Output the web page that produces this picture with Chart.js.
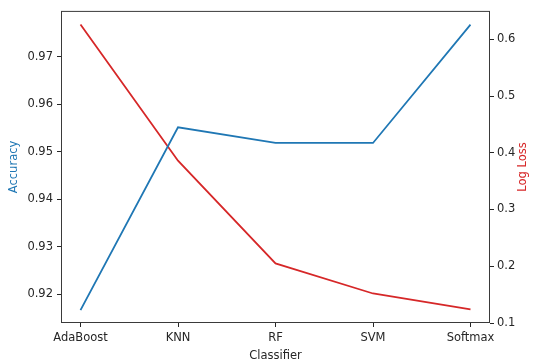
<!DOCTYPE html>
<html>
<head>
<meta charset="utf-8">
<script src="https://cdn.jsdelivr.net/npm/chart.js@4/dist/chart.umd.min.js"></script>
<style>
  html, body { margin: 0; padding: 0; background: #fff; }
  #wrap { width: 534px; height: 364px; position: relative; }
</style>
</head>
<body>
<div id="wrap"><canvas id="chart"></canvas></div>
<script>
// --- data ---
const categories = ['AdaBoost', 'KNN', 'RF', 'SVM', 'Softmax'];
const accuracy = [0.9167, 0.9552, 0.9519, 0.9519, 0.9768];
const logLoss = [0.626, 0.386, 0.205, 0.152, 0.124];
const accTicks = [0.92, 0.93, 0.94, 0.95, 0.96, 0.97];
const lossTicks = [0.1, 0.2, 0.3, 0.4, 0.5, 0.6];

const BLUE = '#1f77b4';
const RED = '#d62728';
const INK = '#262626';
const FONT = { family: 'DejaVu Sans', size: 11.5 };

// matplotlib-style full box plus the two vertical axis titles (both read bottom-to-top)
const frame = {
    id: 'frame',
    afterDraw(chart) {
        const { ctx, chartArea: a } = chart;
        ctx.save();
        ctx.strokeStyle = '#3a3a3a';
        ctx.lineWidth = 1;
        ctx.strokeRect(a.left + 0.5, a.top + 0.5, a.right - a.left - 1, a.bottom - a.top - 1);
        const midY = (a.top + a.bottom) / 2;
        ctx.font = '11.5px "DejaVu Sans"';
        ctx.textAlign = 'center';
        ctx.textBaseline = 'middle';
        [['Accuracy', BLUE, 14], ['Log Loss', RED, 523]].forEach(([t, c, x]) => {
            ctx.save();
            ctx.translate(x, midY);
            ctx.rotate(-Math.PI / 2);
            ctx.fillStyle = c;
            ctx.fillText(t, 0, 0);
            ctx.restore();
        });
        ctx.restore();
    }
};

const tickSetter = list => scale => { scale.ticks = list.map(v => ({ value: v })); };

new Chart(document.getElementById('chart'), {
    type: 'line',
    data: {
        datasets: [
            { label: 'Accuracy', data: accuracy.map((v, i) => ({ x: i, y: v })), yAxisID: 'yAcc',
              borderColor: BLUE, borderWidth: 1.8, pointRadius: 0, tension: 0 },
            { label: 'Log Loss', data: logLoss.map((v, i) => ({ x: i, y: v })), yAxisID: 'yLoss',
              borderColor: RED, borderWidth: 1.8, pointRadius: 0, tension: 0 }
        ]
    },
    options: {
        responsive: true, maintainAspectRatio: false, animation: false,
        layout: { padding: { top: 5, left: 0, right: 0, bottom: 0 } },
        plugins: { legend: { display: false }, tooltip: { enabled: false } },
        scales: {
            x: {
                type: 'linear', min: -0.2, max: 4.2,
                afterBuildTicks: tickSetter([0, 1, 2, 3, 4]),
                afterFit: s => { s.height = 41; },
                grid: { drawOnChartArea: false, drawTicks: true, tickLength: 4, color: INK },
                border: { display: false },
                ticks: { color: INK, font: FONT, padding: 4, maxRotation: 0, autoSkip: false,
                         callback: v => categories[v] },
                title: { display: true, text: 'Classifier', color: INK, font: FONT, padding: { top: 0, bottom: 1 } }
            },
            yAcc: {
                type: 'linear', position: 'left', min: 0.914, max: 0.9797,
                afterBuildTicks: tickSetter(accTicks),
                afterFit: s => { s.width = 61; },
                grid: { drawOnChartArea: false, drawTicks: true, tickLength: 4, color: INK },
                border: { display: false },
                ticks: { color: INK, font: FONT, padding: 4, callback: v => v.toFixed(2) }
            },
            yLoss: {
                type: 'linear', position: 'right', min: 0.1, max: 0.650,
                afterBuildTicks: tickSetter(lossTicks),
                afterFit: s => { s.width = 44; },
                grid: { drawOnChartArea: false, drawTicks: true, tickLength: 4, color: INK },
                border: { display: false },
                ticks: { color: INK, font: FONT, padding: 3, callback: v => v.toFixed(1) }
            }
        }
    },
    plugins: [frame]
});
</script>
</body>
</html>
